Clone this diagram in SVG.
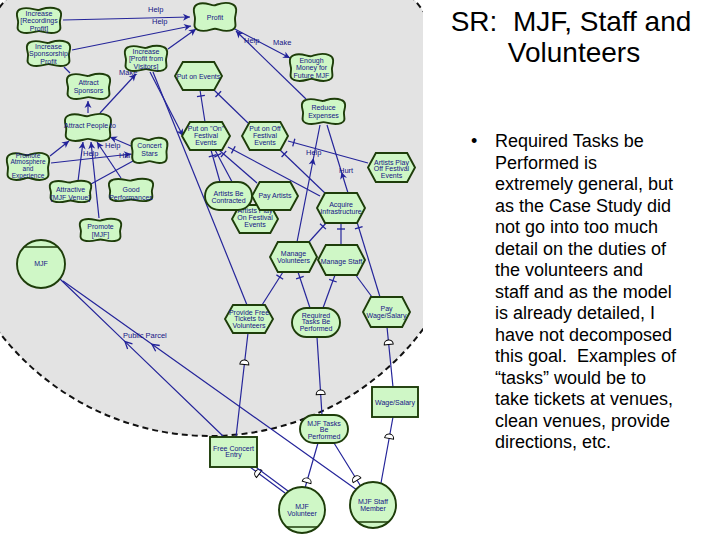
<svg xmlns="http://www.w3.org/2000/svg" xmlns:xlink="http://www.w3.org/1999/xlink" width="720" height="540" viewBox="0 0 720 540">
<style>
.ln{fill:none;stroke:#25259a;stroke-width:1.2}
.nd{fill:#cff7c6;stroke:#1e3d0a;stroke-width:1.9}
.t{font-family:"Liberation Sans",Arial,sans-serif;font-size:7px;fill:#151585;text-anchor:middle}
.lb{font-family:"Liberation Sans",Arial,sans-serif;font-size:7.5px;fill:#151585}
.big{font-family:"Liberation Sans",Arial,sans-serif;font-size:28px;fill:#000;text-anchor:middle}
.bt{font-family:"Liberation Sans",Arial,sans-serif;font-size:18px;fill:#000}
</style>
<defs>
<clipPath id="clip"><rect x="0" y="0" width="423" height="540"/></clipPath>
<symbol id="sg" viewBox="0 0 48 28" preserveAspectRatio="none" overflow="visible"><path class="nd" vector-effect="non-scaling-stroke" d="M6,2 C14,-1 20,4 24,3 C28,2 34,-1 42,2 C48,4 46,10 45,14 C44,18 48,24 42,26 C34,29 28,25 24,25 C20,25 14,29 6,26 C0,24 4,18 3,14 C2,10 0,4 6,2 Z"/></symbol>
<symbol id="hx" viewBox="0 0 48 28" preserveAspectRatio="none" overflow="visible"><path class="nd" vector-effect="non-scaling-stroke" d="M8,0 L40,0 L48,14 L40,28 L8,28 L0,14 Z"/></symbol>
<marker id="ar" viewBox="-8 -5 10 10" refX="0" refY="0" markerWidth="10" markerHeight="10" markerUnits="userSpaceOnUse" orient="auto"><path d="M-7,-3.5 L0,0 L-7,3.5 L-5,0 Z" fill="#22229a"/></marker>
<marker id="ab" viewBox="-2 -5 10 10" refX="0" refY="0" markerWidth="10" markerHeight="10" markerUnits="userSpaceOnUse" orient="auto"><path d="M7,-3.5 L0,0 L7,3.5" fill="none" stroke="#22229a" stroke-width="1.3"/></marker>
<marker id="tk" viewBox="-10 -6 12 12" refX="0" refY="0" markerWidth="12" markerHeight="12" markerUnits="userSpaceOnUse" orient="auto"><path d="M-6,-4 L-6,4" stroke="#22229a" stroke-width="1.3"/></marker>
<marker id="dp" viewBox="-6 -6 12 12" refX="0" refY="0" markerWidth="12" markerHeight="12" markerUnits="userSpaceOnUse" orient="auto"><path d="M1.5,-4.5 A4.5,4.5 0 0 0 1.5,4.5 Z" fill="#fff" stroke="#000" stroke-width="1"/></marker>
</defs>
<rect width="720" height="540" fill="#fff"/>
<g id="boundary" clip-path="url(#clip)">
<circle cx="210" cy="170" r="266" fill="#e3e3e3" stroke="#111" stroke-width="2" stroke-dasharray="6,4"/>
</g>
<g id="connectors">
<line class="ln" x1="63" y1="20" x2="190" y2="17" marker-end="url(#ar)"/>
<line class="ln" x1="72" y1="50" x2="191" y2="26" marker-end="url(#ar)"/>
<line class="ln" x1="168" y1="49" x2="196" y2="29" marker-end="url(#ar)"/>
<line class="ln" x1="70" y1="73" x2="64" y2="67"/>
<line class="ln" x1="88" y1="113" x2="88" y2="101" marker-end="url(#ar)"/>
<line class="ln" x1="100" y1="113" x2="136" y2="74" marker-end="url(#ar)"/>
<line class="ln" x1="231" y1="27" x2="290" y2="58" marker-end="url(#ar)"/>
<line class="ln" x1="306" y1="99" x2="236" y2="31" marker-end="url(#ar)"/>
<line class="ln" x1="153" y1="72" x2="247" y2="305"/>
<line class="ln" x1="150" y1="72" x2="183" y2="136" marker-end="url(#ar)"/>
<line class="ln" x1="50" y1="156" x2="69" y2="141" marker-end="url(#ar)"/>
<line class="ln" x1="51" y1="163" x2="131" y2="154" marker-end="url(#ar)"/>
<line class="ln" x1="78" y1="181" x2="83" y2="142" marker-end="url(#ar)"/>
<line class="ln" x1="91" y1="184" x2="133" y2="161"/>
<line class="ln" x1="121" y1="178" x2="97" y2="142" marker-end="url(#ar)"/>
<line class="ln" x1="99" y1="218" x2="91" y2="142" marker-end="url(#ar)"/>
<line class="ln" x1="131" y1="146" x2="110" y2="137" marker-end="url(#ar)"/>
<polyline class="ln" points="297,242 313.5,158 320,125" marker-mid="url(#ar)"/>
<polyline class="ln" points="348,193 341.5,172 327,125" marker-mid="url(#ar)"/>
<line class="ln" x1="205" y1="122" x2="200" y2="90" marker-end="url(#tk)"/>
<line class="ln" x1="248" y1="123" x2="214" y2="90" marker-end="url(#tk)"/>
<line class="ln" x1="368" y1="163" x2="288" y2="141" marker-end="url(#tk)"/>
<line class="ln" x1="327" y1="195" x2="280" y2="150" marker-end="url(#tk)"/>
<line class="ln" x1="320" y1="196" x2="228" y2="147" marker-end="url(#tk)"/>
<line class="ln" x1="220" y1="182" x2="211" y2="150" marker-end="url(#tk)"/>
<line class="ln" x1="257" y1="183" x2="219" y2="150" marker-end="url(#tk)"/>
<line class="ln" x1="245" y1="206" x2="215" y2="150" marker-end="url(#tk)"/>
<line class="ln" x1="262" y1="305" x2="283" y2="272" marker-end="url(#tk)"/>
<line class="ln" x1="310" y1="308" x2="298" y2="272" marker-end="url(#tk)"/>
<line class="ln" x1="323" y1="308" x2="335" y2="275" marker-end="url(#tk)"/>
<line class="ln" x1="308" y1="243" x2="327" y2="222" marker-end="url(#tk)"/>
<line class="ln" x1="341" y1="245" x2="341" y2="223" marker-end="url(#tk)"/>
<line class="ln" x1="380" y1="297" x2="357" y2="222" marker-end="url(#tk)"/>
<line class="ln" x1="372" y1="297" x2="355" y2="274"/>
<polyline class="ln" points="248,333 244.5,363 236,437" marker-mid="url(#dp)"/>
<polyline class="ln" points="317,337 320.6,393 322,415" marker-mid="url(#dp)"/>
<polyline class="ln" points="387,327 388.6,343 393,387" marker-mid="url(#dp)"/>
<polyline class="ln" points="250,467 258,473 285,493" marker-mid="url(#dp)"/>
<line class="ln" x1="253" y1="465" x2="288" y2="491"/>
<polyline class="ln" points="318,443 307,481 305,488" marker-mid="url(#dp)"/>
<polyline class="ln" points="334,443 356.3,479 360,485" marker-mid="url(#dp)"/>
<polyline class="ln" points="393,417 389.4,437 381,483" marker-mid="url(#dp)"/>
<polyline class="ln" points="60,279 125,341.6 224,437" marker-mid="url(#ab)"/>
<polyline class="ln" points="63,281 152,344.3 357,490" marker-mid="url(#ab)"/>
</g>
<g id="labels">
<text class="lb" x="148" y="12">Help</text>
<text class="lb" x="152" y="24">Help</text>
<text class="lb" x="119" y="75">Make</text>
<text class="lb" x="244" y="43">Help</text>
<text class="lb" x="273" y="45">Make</text>
<text class="lb" x="306" y="155">Help</text>
<text class="lb" x="339" y="173">Hurt</text>
<text class="lb" x="105" y="148">Help</text>
<text class="lb" x="83" y="156">Help</text>
<text class="lb" x="119" y="158">Hurt</text>
<text class="lb" x="123" y="338">Public Parcel</text>
</g>
<g id="recProfit"><use href="#sg" x="15" y="7" width="48" height="27"/><text class="t"><tspan x="39" y="15.5">Increase</tspan><tspan x="39" y="23">[Recordings</tspan><tspan x="39" y="30.5">Profit]</tspan></text></g>
<g id="sponsProfit"><use href="#sg" x="25" y="40" width="47" height="27"/><text class="t"><tspan x="48.5" y="48.5">Increase</tspan><tspan x="48.5" y="56">Sponsorship</tspan><tspan x="48.5" y="63.5">Profit</tspan></text></g>
<g id="visProfit"><use href="#sg" x="123" y="45" width="46" height="27"/><text class="t"><tspan x="146" y="53.5">Increase</tspan><tspan x="146" y="61">[Profit from</tspan><tspan x="146" y="68.5">Visitors]</tspan></text></g>
<g id="attractSponsors"><use href="#sg" x="65" y="73" width="47" height="27"/><text class="t"><tspan x="88.5" y="85.3">Attract</tspan><tspan x="88.5" y="92.8">Sponsors</tspan></text></g>
<g id="profit"><use href="#sg" x="192" y="2" width="46" height="30"/><text class="t" x="215" y="19.5">Profit</text></g>
<g id="enoughMoney"><use href="#sg" x="288" y="53" width="47" height="29"/><text class="t"><tspan x="311.5" y="62.5">Enough</tspan><tspan x="311.5" y="70">Money for</tspan><tspan x="311.5" y="77.5">Future MJF</tspan></text></g>
<g id="reduceExp"><use href="#sg" x="300" y="98" width="47" height="27"/><text class="t"><tspan x="323.5" y="110.3">Reduce</tspan><tspan x="323.5" y="117.8">Expenses</tspan></text></g>
<g id="attractPeople"><use href="#sg" x="63" y="113" width="50" height="29"/><text class="t" x="90" y="128">Attract People to</text></g>
<g id="promoteAtmos"><use href="#sg" x="5" y="152" width="46" height="29"/><text class="t" style="font-size:6.5px"><tspan x="28" y="157.5">Promote</tspan><tspan x="28" y="164.3">Atmosphere</tspan><tspan x="28" y="171">and</tspan><tspan x="28" y="177.8">Experience</tspan></text></g>
<g id="concertStars"><use href="#sg" x="130" y="137" width="39" height="27"/><text class="t"><tspan x="149.5" y="147.5">Concert</tspan><tspan x="149.5" y="155.5">Stars</tspan></text></g>
<g id="attractiveVenue"><use href="#sg" x="48" y="180" width="45" height="23"/><text class="t"><tspan x="70.5" y="192">Attractive</tspan><tspan x="70.5" y="199.5">[MJF Venue]</tspan></text></g>
<g id="goodPerf"><use href="#sg" x="107" y="178" width="48" height="24"/><text class="t"><tspan x="131" y="192">Good</tspan><tspan x="131" y="199.5">Performances</tspan></text></g>
<g id="promoteMJF"><use href="#sg" x="78" y="218" width="45" height="24"/><text class="t"><tspan x="100.5" y="229">Promote</tspan><tspan x="100.5" y="236.5">[MJF]</tspan></text></g>
<g id="putOnEvents"><use href="#hx" x="175" y="62" width="47" height="28"/><text class="t" x="198.5" y="78.5">Put on Events</text></g>
<g id="putOnOn"><use href="#hx" x="182" y="122" width="48" height="28"/><text class="t"><tspan x="206" y="130.5">Put on "On"</tspan><tspan x="206" y="137.5">Festival</tspan><tspan x="206" y="144.5">Events</tspan></text></g>
<g id="putOnOff"><use href="#hx" x="242" y="122" width="46" height="28"/><text class="t"><tspan x="265" y="130.5">Put on Off</tspan><tspan x="265" y="137.5">Festival</tspan><tspan x="265" y="144.5">Events</tspan></text></g>
<g id="artistsPlayOn"><use href="#hx" x="232" y="205" width="46" height="28"/><text class="t"><tspan x="255" y="212.5">Artists Play</tspan><tspan x="255" y="219.5">On Festival</tspan><tspan x="255" y="226.5">Events</tspan></text></g>
<g id="artistsContracted"><rect class="nd" x="205" y="182" width="47" height="28" rx="14"/><text class="t"><tspan x="228.5" y="195.5">Artists Be</tspan><tspan x="228.5" y="202.5">Contracted</tspan></text></g>
<g id="payArtists"><use href="#hx" x="252" y="182" width="46" height="28"/><text class="t" x="275" y="198">Pay Artists</text></g>
<g id="acquireInfra"><use href="#hx" x="317" y="193" width="48" height="30"/><text class="t"><tspan x="341" y="206.5">Acquire</tspan><tspan x="341" y="213.5">Infrastructure</tspan></text></g>
<g id="artistsPlayOff"><use href="#hx" x="368" y="153" width="47" height="29"/><text class="t"><tspan x="391.5" y="164.5">Artists Play</tspan><tspan x="391.5" y="171">Off Festival</tspan><tspan x="391.5" y="177.5">Events</tspan></text></g>
<g id="manageVol"><use href="#hx" x="270" y="242" width="47" height="30"/><text class="t"><tspan x="293.5" y="255.5">Manage</tspan><tspan x="293.5" y="262.5">Volunteers</tspan></text></g>
<g id="manageStaff"><use href="#hx" x="318" y="245" width="47" height="30"/><text class="t" x="341.5" y="263.5">Manage Staff</text></g>
<g id="freeTickets"><use href="#hx" x="225" y="305" width="48" height="28"/><text class="t"><tspan x="249" y="314.5">Provide Free</tspan><tspan x="249" y="321">Tickets to</tspan><tspan x="249" y="327.5">Volunteers</tspan></text></g>
<g id="requiredTasks"><rect class="nd" x="292" y="308" width="48" height="29" rx="14.5"/><text class="t"><tspan x="316" y="317.5">Required</tspan><tspan x="316" y="324">Tasks Be</tspan><tspan x="316" y="330.5">Performed</tspan></text></g>
<g id="payWage"><use href="#hx" x="363" y="297" width="47" height="30"/><text class="t"><tspan x="386.5" y="310.5">Pay</tspan><tspan x="386.5" y="317.5">Wage/Salary</tspan></text></g>
<g id="wage"><rect class="nd" x="372" y="387" width="46" height="30"/><text class="t" x="395" y="404.5">Wage/Salary</text></g>
<g id="mjfTasks"><rect class="nd" x="300" y="415" width="48" height="28" rx="14"/><text class="t"><tspan x="324" y="425.5">MJF Tasks</tspan><tspan x="324" y="432">Be</tspan><tspan x="324" y="438.5">Performed</tspan></text></g>
<g id="freeConcert"><rect class="nd" x="210" y="437" width="47" height="30"/><text class="t"><tspan x="233.5" y="450.5">Free Concert</tspan><tspan x="233.5" y="457">Entry</tspan></text></g>
<g id="mjf"><circle class="nd" cx="41" cy="264" r="24"/><path d="M24.1,247 L57.9,247" stroke="#1e3d0a" stroke-width="1.5"/><text class="t" x="41" y="266">MJF</text></g>
<g id="mjfVol"><circle class="nd" cx="302" cy="510" r="23"/><path d="M286.5,527 L317.5,527" stroke="#1e3d0a" stroke-width="1.5"/><text class="t"><tspan x="302" y="509">MJF</tspan><tspan x="302" y="516">Volunteer</tspan></text></g>
<g id="mjfStaff"><circle class="nd" cx="373" cy="505" r="23"/><path d="M357.5,522 L388.5,522" stroke="#1e3d0a" stroke-width="1.5"/><text class="t"><tspan x="373" y="504">MJF Staff</tspan><tspan x="373" y="511">Member</tspan></text></g>
<g id="title">
<text class="big" x="571" y="31">SR:&#160; MJF, Staff and</text>
<text class="big" x="574" y="62">Volunteers</text>
</g>
<g id="bullet">
<text class="bt" x="471" y="147">•</text>
<text class="bt">
<tspan x="495" y="147">Required Tasks be</tspan>
<tspan x="495" y="168.5">Performed is</tspan>
<tspan x="495" y="190">extremely general, but</tspan>
<tspan x="495" y="211.5">as the Case Study did</tspan>
<tspan x="495" y="233">not go into too much</tspan>
<tspan x="495" y="254.5">detail on the duties of</tspan>
<tspan x="495" y="276">the volunteers and</tspan>
<tspan x="495" y="297.5">staff and as the model</tspan>
<tspan x="495" y="319">is already detailed, I</tspan>
<tspan x="495" y="340.5">have not decomposed</tspan>
<tspan x="495" y="362">this goal.&#160; Examples of</tspan>
<tspan x="495" y="383.5">“tasks” would be to</tspan>
<tspan x="495" y="405">take tickets at venues,</tspan>
<tspan x="495" y="426.5">clean venues, provide</tspan>
<tspan x="495" y="448">directions, etc.</tspan>
</text>
</g>
</svg>
